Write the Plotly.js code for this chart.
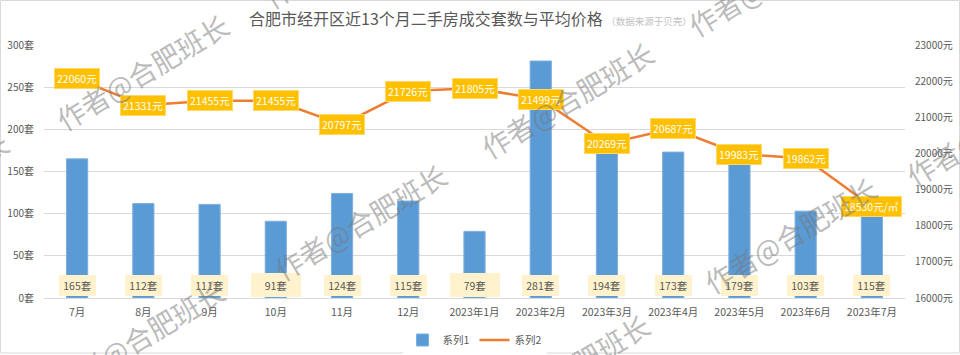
<!DOCTYPE html>
<html>
<head>
<meta charset="utf-8">
<script src="https://cdn.plot.ly/plotly-3.0.1.min.js"></script>
<style>html,body{margin:0;padding:0;background:#fff;}#chart{width:960px;height:355px;}</style>
</head>
<body>
<div id="chart"></div>
<script>
// ---- data ----
const categories = ['7月','8月','9月','10月','11月','12月','2023年1月','2023年2月','2023年3月','2023年4月','2023年5月','2023年6月','2023年7月'];
const deals = [165, 112, 111, 91, 124, 115, 79, 281, 194, 173, 179, 103, 115];
const prices = [22060, 21331, 21455, 21455, 20797, 21726, 21805, 21499, 20269, 20687, 19983, 19862, 18530];
const seriesNames = ['系列1', '系列2'];
const leftTicks = [0, 50, 100, 150, 200, 250, 300];
const rightTicks = [16000, 17000, 18000, 19000, 20000, 21000, 22000, 23000];
const titleText = '合肥市经开区近13个月二手房成交套数与平均价格';
const sourceText = '（数据来源于贝壳）';
const watermarkText = '作者@合肥班长';

const FONT = '"Noto Sans CJK SC", "Noto Sans", sans-serif';
const GREY = '#595959';

const traces = [
  {
    type: 'bar', name: seriesNames[0], x: categories, y: deals,
    marker: {color: '#5B9BD5', line: {color: '#7DAFDF', width: 1}},
    hoverinfo: 'skip'
  },
  {
    type: 'scatter', mode: 'lines', name: seriesNames[1], x: categories, y: prices,
    yaxis: 'y2', line: {color: '#ED7D31', width: 2.5}, hoverinfo: 'skip'
  }
];

const annotations = [];
// bar value labels near base
categories.forEach((c, i) => {
  const wide = deals[i] < 100;
  annotations.push({
    x: c, y: 0, xref: 'x', yref: 'y', yshift: 13, yanchor: 'middle',
    text: deals[i] + '套', showarrow: false,
    font: {family: FONT, size: 10.5, color: GREY},
    bgcolor: '#FFF2CC', bordercolor: '#FFF2CC', borderwidth: 1,
    width: wide ? 46 : 33, height: wide ? 20 : 17, borderpad: 1
  });
});
// line value labels
categories.forEach((c, i) => {
  const last = i === categories.length - 1;
  annotations.push({
    x: c, y: prices[i], xref: 'x', yref: 'y2', yanchor: 'middle',
    text: prices[i] + (last ? '元/㎡' : '元'), showarrow: false,
    font: {family: FONT, size: 10.5, color: '#ffffff'},
    bgcolor: '#FFC000', bordercolor: '#FFD966', borderwidth: 1, borderpad: 2
  });
});
// title
annotations.push({
  xref: 'paper', yref: 'paper', x: (470 - 44) / 861, y: (298 - 18) / 253, yanchor: 'middle', xanchor: 'center',
  showarrow: false,
  text: '<span style="font-size:16px;color:#595959">' + titleText + '</span> <span style="font-size:9.5px;color:#BFBFBF">' + sourceText + '</span>',
  font: {family: FONT, size: 16, color: GREY}
});
// watermarks
const wmCenters = [[142,72],[567,100],[360,222],[790,235],[138,338],[563,372],[774,-22],[992,128],[-78,190],[349,-50]];
wmCenters.forEach(p => {
  annotations.push({
    xref: 'paper', yref: 'paper',
    x: (p[0] - 44) / 861, y: (298 - p[1]) / 253,
    xanchor: 'center', yanchor: 'middle', showarrow: false,
    text: watermarkText, textangle: -31,
    font: {family: FONT, size: 28, color: 'rgba(120,120,120,0.5)'}
  });
});

const layout = {
  width: 960, height: 355,
  margin: {l: 44, r: 55, t: 45, b: 57, pad: 0, autoexpand: false},
  paper_bgcolor: '#ffffff', plot_bgcolor: '#ffffff',
  font: {family: FONT, size: 10, color: GREY},
  showlegend: true,
  legend: {orientation: 'h', x: 0.5, xanchor: 'center', y: (298 - 340) / 253, yanchor: 'middle',
           font: {family: FONT, size: 10.5, color: GREY}, itemwidth: 30},
  bargap: 0.68,
  xaxis: {
    type: 'category', showgrid: false, showline: true, linecolor: '#D9D9D9', linewidth: 1,
    ticks: '', ticklabelstandoff: 4, tickfont: {family: FONT, size: 10.5, color: GREY}, fixedrange: true,
    automargin: false
  },
  yaxis: {
    range: [0, 300], tickvals: leftTicks, ticktext: leftTicks.map(v => v + '套'),
    showgrid: true, gridcolor: '#D9D9D9', gridwidth: 1, zeroline: false, showline: false,
    ticks: '', ticklabelstandoff: 9, tickfont: {family: FONT, size: 10, color: GREY}, automargin: false
  },
  yaxis2: {
    range: [16000, 23000], tickvals: rightTicks, ticktext: rightTicks.map(v => v + '元'),
    overlaying: 'y', side: 'right', showgrid: false, zeroline: false, showline: false,
    ticks: '', ticklabelstandoff: 9, tickfont: {family: FONT, size: 10, color: GREY}, automargin: false
  },
  shapes: [{
    type: 'rect', xref: 'paper', yref: 'paper', layer: 'below',
    x0: (0.5 - 44) / 861, x1: (959.5 - 44) / 861,
    y0: (298 - 353) / 253, y1: (298 - 0.5) / 253,
    line: {color: '#D9D9D9', width: 1}
  }],
  annotations: annotations
};

Plotly.newPlot('chart', traces, layout, {displayModeBar: false, staticPlot: true});
</script>
</body>
</html>
